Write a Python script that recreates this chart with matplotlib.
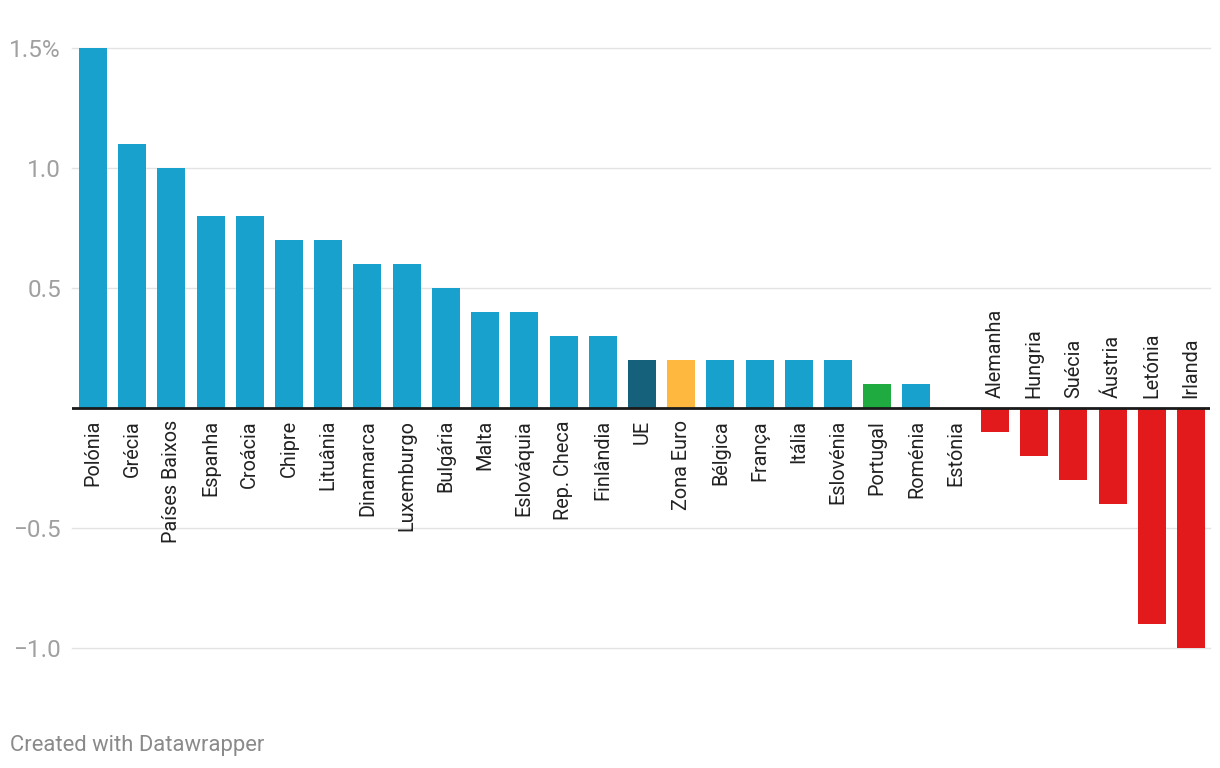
import matplotlib
matplotlib.use("Agg")
import matplotlib.pyplot as plt

# data
countries = ["Polónia", "Grécia", "Países Baixos", "Espanha", "Croácia", "Chipre",
             "Lituânia", "Dinamarca", "Luxemburgo", "Bulgária", "Malta", "Eslováquia",
             "Rep. Checa", "Finlândia", "UE", "Zona Euro", "Bélgica", "França", "Itália",
             "Eslovénia", "Portugal", "Roménia", "Estónia", "Alemanha", "Hungria",
             "Suécia", "Áustria", "Letónia", "Irlanda"]
values = [1.5, 1.1, 1.0, 0.8, 0.8, 0.7, 0.7, 0.6, 0.6, 0.5, 0.4, 0.4, 0.3, 0.3,
          0.2, 0.2, 0.2, 0.2, 0.2, 0.2, 0.1, 0.1, 0.0, -0.1, -0.2, -0.3, -0.4, -0.9, -1.0]
yticks = [-1.0, -0.5, 0.5, 1.0, 1.5]
ytick_labels = ["\u22121.0", "\u22120.5", "0.5", "1.0", "1.5%"]

special = {"UE": "#15607a", "Zona Euro": "#ffb83f", "Portugal": "#1fab40"}

colors = []
for c, v in zip(countries, values):
    if c in special:
        colors.append(special[c])
    elif v < 0:
        colors.append("#e31a1c")
    else:
        colors.append("#18a1cd")

plt.rcParams["font.family"] = ["Roboto", "DejaVu Sans"]

fig = plt.figure(figsize=(12.2, 7.68), dpi=100)
ax = fig.add_axes([72 / 1220, 120 / 768, 1138 / 1220, 600 / 768])

x = list(range(len(countries)))
ax.bar(x, values, width=0.714, color=colors, zorder=2)

ax.set_ylim(-1.0, 1.5)
ax.set_xlim(-0.5355, 28.485)

for t in yticks:
    ax.axhline(t, color="#e3e3e3", lw=1, zorder=0, clip_on=False)
ax.axhline(0, color="#1a1a1a", lw=2, zorder=3)

ax.set_yticks(yticks)
ax.set_yticklabels(ytick_labels, color="#a0a0a0", fontsize=17.5)
ax.tick_params(axis="y", length=0, pad=8)
ax.set_xticks([])
for s in ax.spines.values():
    s.set_visible(False)

# country labels
for xi, c, v in zip(x, countries, values):
    if v >= 0:
        ax.annotate(c, (xi, 0), xytext=(0, -12), textcoords="offset pixels",
                    rotation=90, ha="center", va="top", fontsize=14.3, color="#222222")
    else:
        ax.annotate(c, (xi, 0), xytext=(0, 10), textcoords="offset pixels",
                    rotation=90, ha="center", va="bottom", fontsize=14.3, color="#222222")

fig.text(10 / 1220, 1 - 745 / 768, "Created with Datawrapper", fontsize=15.8,
         color="#8a8a8a", ha="left", va="center")

fig.savefig("out.png", dpi=100)
